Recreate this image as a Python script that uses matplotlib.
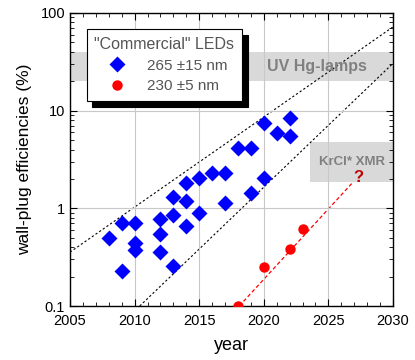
import matplotlib
matplotlib.use("Agg")
import matplotlib.pyplot as plt
from matplotlib.ticker import MultipleLocator, FixedLocator, NullFormatter

plt.rcParams['font.family'] = ['Liberation Sans', 'DejaVu Sans']

# 265 nm LEDs (blue diamonds)
uvc_year = [2008, 2009, 2009, 2010, 2010, 2010, 2012, 2012, 2012, 2013, 2013, 2013,
            2014, 2014, 2014, 2015, 2015, 2016, 2017, 2017, 2018, 2019, 2019,
            2020, 2020, 2021, 2022, 2022]
uvc_eff = [0.50, 0.71, 0.227, 0.71, 0.44, 0.377, 0.78, 0.55, 0.356, 1.31, 0.86, 0.256,
           1.82, 1.19, 0.66, 2.02, 0.90, 2.30, 2.30, 1.14, 4.15, 4.15, 1.44,
           7.5, 2.02, 5.84, 8.44, 5.47]

# 230 nm LEDs (red circles)
far_year = [2018, 2020, 2022, 2023]
far_eff = [0.10, 0.25, 0.385, 0.62]

# trend lines
upper_year = [2005, 2030]
upper_eff = [0.356, 72]
lower_year = [2010.4, 2030]
lower_eff = [0.1, 30.5]
red_year = [2018.1, 2026.8]
red_eff = [0.1, 1.79]

fig = plt.figure(figsize=(4.15, 3.6), dpi=100)
ax = fig.add_axes([0.1687, 0.15, 0.7783, 0.814])
ax.set_yscale('log')
ax.set_xlim(2005, 2030)
ax.set_ylim(0.1, 100)

# gray bands
ax.axhspan(20, 40, color='#d9d9d9', zorder=0, lw=0)
ax.fill_between([2023.6, 2030], 1.84, 4.8, color='#d9d9d9', zorder=0, lw=0)
ax.text(2024.1, 28, 'UV Hg-lamps', color='#808080', fontsize=11.5,
        fontweight='bold', ha='center', va='center')
ax.text(2026.8, 2.95, 'KrCl* XMR', color='#808080', fontsize=9.5,
        fontweight='bold', ha='center', va='center')

ax.grid(True, which='major', color='#c8c8c8', lw=0.8, zorder=0.5)

ax.plot(upper_year, upper_eff, color='black', lw=0.8, ls=(0, (2, 2)), zorder=1)
ax.plot(lower_year, lower_eff, color='black', lw=0.8, ls=(0, (2, 2)), zorder=1)
ax.plot(red_year, red_eff, color='red', lw=0.9, ls=(0, (3, 2)), zorder=1)
ax.text(2027.3, 2.05, '?', color='#c00000', fontsize=12, fontweight='bold',
        ha='center', va='center')

ax.plot(uvc_year, uvc_eff, 'D', color='blue', ms=8.5, mec='none',
        label='265 ±15 nm', zorder=3, clip_on=False)
ax.plot(far_year, far_eff, 'o', color='red', ms=7.5, mec='none',
        label='230 ±5 nm', zorder=3, clip_on=True)

ax.xaxis.set_major_locator(MultipleLocator(5))
ax.xaxis.set_minor_locator(MultipleLocator(1))
ax.yaxis.set_major_locator(FixedLocator([0.1, 1, 10, 100]))
ax.set_yticklabels(['0.1', '1', '10', '100'])
ax.yaxis.set_minor_formatter(NullFormatter())
ax.tick_params(which='both', direction='in', top=True, right=True,
               labelsize=10.5, colors='black')
ax.tick_params(axis='x', which='major', pad=6)
ax.tick_params(which='major', length=5)
ax.tick_params(which='minor', length=3)
for s in ax.spines.values():
    s.set_linewidth(1.0)

ax.set_xlabel('year', fontsize=13, labelpad=6)
ax.set_ylabel('wall-plug efficiencies (%)', fontsize=12.5, labelpad=6)

leg = ax.legend(title='"Commercial" LEDs', loc='upper left',
                bbox_to_anchor=(0.052, 0.945), borderaxespad=0, fancybox=False,
                shadow={'color': 'black', 'alpha': 1, 'ox': 4, 'oy': -4},
                framealpha=1, edgecolor='black', fontsize=11,
                title_fontsize=11.5, handletextpad=1.0, borderpad=0.5,
                labelspacing=0.45)
leg.get_frame().set_linewidth(0.8)
leg.get_title().set_color('#555555')
for t in leg.get_texts():
    t.set_color('#555555')

fig.savefig('out.png', dpi=100)
